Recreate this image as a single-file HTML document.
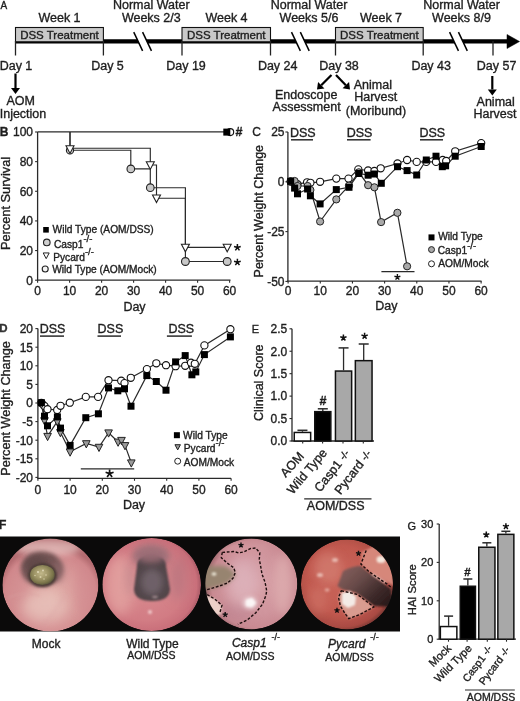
<!DOCTYPE html>
<html><head><meta charset="utf-8"><style>
html,body{margin:0;padding:0;background:#fff;}
body{width:520px;height:701px;overflow:hidden;}
svg{display:block;filter:blur(0.3px);font-family:"Liberation Sans", sans-serif;}
</style></head><body>
<svg width="520" height="701" viewBox="0 0 520 701">
<rect width="520" height="701" fill="#fff"/>
<defs>
<filter id="b1" x="-50%" y="-50%" width="200%" height="200%"><feGaussianBlur stdDeviation="1"/></filter>
<filter id="b2" x="-50%" y="-50%" width="200%" height="200%"><feGaussianBlur stdDeviation="2"/></filter>
<filter id="b3" x="-50%" y="-50%" width="200%" height="200%"><feGaussianBlur stdDeviation="3"/></filter>
<filter id="b4" x="-50%" y="-50%" width="200%" height="200%"><feGaussianBlur stdDeviation="4"/></filter>
<filter id="b6" x="-50%" y="-50%" width="200%" height="200%"><feGaussianBlur stdDeviation="6"/></filter>
<filter id="bh" x="-10%" y="-10%" width="120%" height="120%"><feGaussianBlur stdDeviation="0.6"/></filter>
<clipPath id="c1"><ellipse cx="50.4" cy="585" rx="48" ry="46.5"/></clipPath>
<clipPath id="c2"><ellipse cx="151.7" cy="584.5" rx="49.3" ry="46.5"/></clipPath>
<clipPath id="c3"><ellipse cx="251.3" cy="584" rx="46" ry="45.5"/></clipPath>
<clipPath id="c4"><ellipse cx="347" cy="584.5" rx="46" ry="45"/></clipPath>
<radialGradient id="g1" cx="0.5" cy="0.62" r="0.55">
  <stop offset="0" stop-color="#e2b2ab"/><stop offset="0.55" stop-color="#d99a9a"/><stop offset="0.88" stop-color="#d0878b"/><stop offset="1" stop-color="#b46c71"/>
</radialGradient>
<radialGradient id="g2" cx="0.45" cy="0.5" r="0.55">
  <stop offset="0" stop-color="#d98c90"/><stop offset="0.7" stop-color="#d27c84"/><stop offset="0.92" stop-color="#c96f7a"/><stop offset="1" stop-color="#a85a66"/>
</radialGradient>
<radialGradient id="g3" cx="0.55" cy="0.5" r="0.55">
  <stop offset="0" stop-color="#d8a2a8"/><stop offset="0.6" stop-color="#d0959d"/><stop offset="0.88" stop-color="#c98a92"/><stop offset="0.97" stop-color="#a86e74"/><stop offset="1" stop-color="#6e4a50"/>
</radialGradient>
<radialGradient id="g4" cx="0.45" cy="0.45" r="0.58">
  <stop offset="0" stop-color="#ca665b"/><stop offset="0.65" stop-color="#c1594f"/><stop offset="0.9" stop-color="#aa4b43"/><stop offset="1" stop-color="#743430"/>
</radialGradient>
<linearGradient id="lum4" x1="0" y1="0" x2="1" y2="0.8">
  <stop offset="0" stop-color="#8a6260"/><stop offset="0.4" stop-color="#6a4c4a"/><stop offset="0.75" stop-color="#3e2a2a"/><stop offset="1" stop-color="#2a1a1a"/>
</linearGradient>
<radialGradient id="blob1" cx="0.45" cy="0.42" r="0.6">
  <stop offset="0" stop-color="#c2b88a"/><stop offset="0.45" stop-color="#a09668"/><stop offset="0.8" stop-color="#7a744a"/><stop offset="1" stop-color="#55503a"/>
</radialGradient>
</defs>
<rect x="0" y="536.5" width="400" height="95" fill="#0b0a0a"/>
<g clip-path="url(#c1)" filter="url(#bh)">
  <ellipse cx="50.4" cy="585" rx="48" ry="46.5" fill="url(#g1)"/>
  <ellipse cx="48" cy="548" rx="32" ry="8" fill="#e6c4c1" filter="url(#b3)" opacity="0.7"/>
  <ellipse cx="20" cy="585" rx="10" ry="22" fill="#d08a8e" filter="url(#b4)" opacity="0.5"/>
  <ellipse cx="85" cy="590" rx="10" ry="25" fill="#d28a8f" filter="url(#b4)" opacity="0.5"/>
  <ellipse cx="45" cy="606" rx="22" ry="15" fill="#e8c2bb" filter="url(#b6)" opacity="0.75"/>
  <path d="M64,596 Q56,612 42,626" stroke="#d4959a" stroke-width="1.6" fill="none" filter="url(#b2)" opacity="0.5"/>
  <path d="M8,598 Q25,590 40,596" stroke="#d9a0a0" stroke-width="1.2" fill="none" filter="url(#b1)" opacity="0.5"/>
  <ellipse cx="42" cy="569" rx="21" ry="17.5" fill="#735455" filter="url(#b2)"/><ellipse cx="36" cy="564" rx="12" ry="9" fill="#5e4646" filter="url(#b3)" opacity="0.8"/>
  <ellipse cx="58" cy="572" rx="7" ry="11" fill="#9a7072" filter="url(#b3)" opacity="0.5"/>
  <ellipse cx="42.4" cy="575" rx="14.5" ry="12" fill="#4e3c38" filter="url(#b1)"/>
  <ellipse cx="42.4" cy="575" rx="12.3" ry="10.1" fill="url(#blob1)"/>
  
  <circle cx="38" cy="572" r="1" fill="#e0d8b8"/><circle cx="43" cy="570.5" r="0.9" fill="#e0d8b8"/><circle cx="40.5" cy="577" r="1" fill="#d8d0a8"/><circle cx="46" cy="575" r="0.8" fill="#d8d0a8"/><circle cx="35" cy="575.5" r="0.8" fill="#cfc8a0"/><circle cx="44" cy="579" r="0.8" fill="#cfc8a0"/>
</g>
<g clip-path="url(#c2)" filter="url(#bh)">
  <ellipse cx="151.7" cy="584.5" rx="49.3" ry="46.5" fill="url(#g2)"/>
  <ellipse cx="120" cy="585" rx="15" ry="30" fill="#e4a4a2" filter="url(#b6)" opacity="0.8"/><ellipse cx="178" cy="578" rx="8" ry="22" fill="#a8707a" filter="url(#b6)" opacity="0.5"/><ellipse cx="130" cy="578" rx="5" ry="18" fill="#b98288" filter="url(#b4)" opacity="0.5"/>
  <ellipse cx="151" cy="556" rx="19" ry="12" fill="#a0727a" filter="url(#b3)" opacity="0.9"/>
  <path d="M137,566 Q137,556 151,555 Q166,556 166,566 L170,589 Q170,601 152,601 Q134,601 134,589 Z" fill="#514449" filter="url(#b1)"/>
  <ellipse cx="152" cy="582" rx="11" ry="13" fill="#6e6167" filter="url(#b3)"/>
  <ellipse cx="151" cy="556" rx="14" ry="7" fill="#9a6c74" filter="url(#b3)" opacity="0.9"/>
  <ellipse cx="155" cy="597" rx="3" ry="1.3" fill="#9d878b" filter="url(#b1)"/>
  <ellipse cx="150" cy="612" rx="2" ry="2" fill="#efc8c8" filter="url(#b1)"/>
</g>
<g clip-path="url(#c3)" filter="url(#bh)">
  <ellipse cx="251.3" cy="584" rx="46" ry="45.5" fill="url(#g3)"/>
  <ellipse cx="283" cy="585" rx="9" ry="30" fill="#e2b4b4" filter="url(#b4)" opacity="0.6"/>
  <ellipse cx="245" cy="575" rx="16" ry="20" fill="#d8a8b2" filter="url(#b6)" opacity="0.6"/>
  <ellipse cx="235" cy="612" rx="20" ry="10" fill="#bc8290" filter="url(#b4)" opacity="0.5"/>
  <ellipse cx="240" cy="548" rx="30" ry="6" fill="#d49aa0" filter="url(#b3)" opacity="0.6"/>
  <ellipse cx="242" cy="585" rx="14" ry="22" fill="#e0b8c0" filter="url(#b6)" opacity="0.6"/><path d="M203,566 L225,566 Q236,571 235,576 L228,583 L218,587 L203,590 Z" fill="#978470" filter="url(#b2)"/>
  <ellipse cx="214" cy="574" rx="2.5" ry="1.8" fill="#e8e2d2" filter="url(#b1)"/>
  <ellipse cx="250" cy="603" rx="7" ry="6" fill="#eed8dc" filter="url(#b2)"/><path d="M246,600 L252,598 L256,603 L252,607 L246,606 Z" fill="#fbf6f6" filter="url(#b1)"/>
  <path d="M204,594 L215,599 L222,606 L221,614 L212,617 L204,611 Z" fill="#ecd0c8" filter="url(#b1)"/>
</g>
<g clip-path="url(#c4)" filter="url(#bh)">
  <ellipse cx="347" cy="584.5" rx="46" ry="45" fill="url(#g4)"/>
  <ellipse cx="328" cy="568" rx="14" ry="16" fill="#d98a7e" filter="url(#b4)" opacity="0.5"/><ellipse cx="320" cy="575" rx="3" ry="2" fill="#e8b8ae" filter="url(#b1)"/><ellipse cx="335" cy="560" rx="3" ry="2" fill="#e8b8ae" filter="url(#b1)"/><ellipse cx="327" cy="590" rx="2.5" ry="1.8" fill="#e4aaa0" filter="url(#b1)"/>
  <ellipse cx="318" cy="600" rx="10" ry="14" fill="#d2786c" filter="url(#b4)" opacity="0.5"/>
  <path d="M343,571 Q352,566 361,566 L391,589 L393,607 L374,606 L355,592.5 L342.5,589.4 L337.5,586 Z" fill="url(#lum4)" filter="url(#b1)"/>
  <path d="M362,552 L374,546 L392,556 L394,586 L368,571 L361,564 Z" fill="#d6877a" filter="url(#b1)"/>
  <path d="M341,591 L357,594 L374,607 L359,615 L349,619 L340,606 L338,597 Z" fill="#d99c90" filter="url(#b1)"/>
  <path d="M342,593 L350,591 L356,597 L355,605 L348,608 L342,604 Z" fill="#f4ebe6" filter="url(#b1)"/>
  <ellipse cx="381" cy="559.5" rx="4.5" ry="3.5" fill="#f4e6dc" filter="url(#b1)"/><path d="M372,574 L386,583" stroke="#efd0c8" stroke-width="2" filter="url(#b1)"/>
</g>
<g fill="none" stroke="#1e0e0e" stroke-width="1.4" stroke-dasharray="2.8,1.7">
  <path d="M222.3,552.4 L233.8,551.5 L238.7,552.9 L243.5,552 L250.2,548.6 L255.6,548 L259.8,552.8 L259.3,559.2 L260.9,567.6 L262,574 L265.1,582.4 L266.7,590.9 L265.9,595.5 L262.5,604.2 L255.8,612.8 L250,617.6 L247.4,620 L237.9,624.3"/>
  <path d="M222.3,552.4 L221.3,557.7 L227.1,563 L233.8,567.8 L235.3,572.6 L232.9,578.4 L227.1,583.2 L219.4,586 L206,590"/>
  <path d="M207.2,594.6 L214.6,598.9 L222,605.2 L219.9,612.6"/>
  <path d="M366.2,550.5 L360.9,564 L369,571.7 L387.3,584.2 L392,588"/>
  <path d="M341.3,590.7 L357.5,594.5 L373.8,607 L359.4,614.7 L348.8,618.6 L345.2,613.8 L340.4,606 L338.5,597.4 Z"/>
</g>

<text x="0.5" y="8.6" font-size="10" text-anchor="start" fill="#1e1e1e" stroke="#1e1e1e" stroke-width="0.35"  style="">A</text>
<text x="59.5" y="21.5" font-size="12.5" text-anchor="middle" fill="#1e1e1e" stroke="#1e1e1e" stroke-width="0.35"  style="">Week 1</text>
<text x="226.5" y="21.5" font-size="12.5" text-anchor="middle" fill="#1e1e1e" stroke="#1e1e1e" stroke-width="0.35"  style="">Week 4</text>
<text x="381" y="21.5" font-size="12.5" text-anchor="middle" fill="#1e1e1e" stroke="#1e1e1e" stroke-width="0.35"  style="">Week 7</text>
<text x="151.3" y="9" font-size="12.5" text-anchor="middle" fill="#1e1e1e" stroke="#1e1e1e" stroke-width="0.35"  style="">Normal Water</text>
<text x="151.3" y="21.5" font-size="12.5" text-anchor="middle" fill="#1e1e1e" stroke="#1e1e1e" stroke-width="0.35"  style="">Weeks 2/3</text>
<text x="309" y="9" font-size="12.5" text-anchor="middle" fill="#1e1e1e" stroke="#1e1e1e" stroke-width="0.35"  style="">Normal Water</text>
<text x="309" y="21.5" font-size="12.5" text-anchor="middle" fill="#1e1e1e" stroke="#1e1e1e" stroke-width="0.35"  style="">Weeks 5/6</text>
<text x="461.5" y="9" font-size="12.5" text-anchor="middle" fill="#1e1e1e" stroke="#1e1e1e" stroke-width="0.35"  style="">Normal Water</text>
<text x="461.5" y="21.5" font-size="12.5" text-anchor="middle" fill="#1e1e1e" stroke="#1e1e1e" stroke-width="0.35"  style="">Weeks 8/9</text>
<path d="M15,41.4 L510,41.4" fill="none" stroke="#000" stroke-width="4.4" />
<path d="M507,34.5 L519.5,41.5 L507,48.5 Z" fill="#000" stroke="#000" stroke-width="0.5" />
<rect x="15.5" y="27.5" width="87.9" height="14.3" fill="#c9c9c9" stroke="#111" stroke-width="1.1"/>
<text x="59.45" y="38.7" font-size="11.5" text-anchor="middle" fill="#1e1e1e" stroke="#1e1e1e" stroke-width="0.35"  style="">DSS Treatment</text>
<rect x="182" y="27.5" width="88.5" height="14.3" fill="#c9c9c9" stroke="#111" stroke-width="1.1"/>
<text x="226.25" y="38.7" font-size="11.5" text-anchor="middle" fill="#1e1e1e" stroke="#1e1e1e" stroke-width="0.35"  style="">DSS Treatment</text>
<rect x="335.5" y="27.5" width="87.69999999999999" height="14.3" fill="#c9c9c9" stroke="#111" stroke-width="1.1"/>
<text x="379.35" y="38.7" font-size="11.5" text-anchor="middle" fill="#1e1e1e" stroke="#1e1e1e" stroke-width="0.35"  style="">DSS Treatment</text>
<path d="M133.75,32.1 L142.6,50.9 L151.45,50.9 L142.6,32.1 Z" fill="#fff" stroke="none"/>
<line x1="133.75" y1="32.1" x2="142.6" y2="50.9" stroke="#000" stroke-width="1.5" />
<line x1="142.6" y1="32.1" x2="151.45" y2="50.9" stroke="#000" stroke-width="1.5" />
<path d="M291.5,32.1 L300.35,50.9 L309.2,50.9 L300.35,32.1 Z" fill="#fff" stroke="none"/>
<line x1="291.5" y1="32.1" x2="300.35" y2="50.9" stroke="#000" stroke-width="1.5" />
<line x1="300.35" y1="32.1" x2="309.2" y2="50.9" stroke="#000" stroke-width="1.5" />
<path d="M449.6,32.1 L458.45000000000005,50.9 L467.3,50.9 L458.45000000000005,32.1 Z" fill="#fff" stroke="none"/>
<line x1="449.6" y1="32.1" x2="458.45000000000005" y2="50.9" stroke="#000" stroke-width="1.5" />
<line x1="458.45000000000005" y1="32.1" x2="467.3" y2="50.9" stroke="#000" stroke-width="1.5" />
<line x1="15.5" y1="41" x2="15.5" y2="55.5" stroke="#222" stroke-width="1.3" />
<line x1="103.4" y1="41" x2="103.4" y2="55.5" stroke="#222" stroke-width="1.3" />
<line x1="182" y1="41" x2="182" y2="55.5" stroke="#222" stroke-width="1.3" />
<line x1="270.5" y1="41" x2="270.5" y2="55.5" stroke="#222" stroke-width="1.3" />
<line x1="335.5" y1="41" x2="335.5" y2="55.5" stroke="#222" stroke-width="1.3" />
<line x1="423.2" y1="41" x2="423.2" y2="55.5" stroke="#222" stroke-width="1.3" />
<line x1="493" y1="41" x2="493" y2="55.5" stroke="#222" stroke-width="1.3" />
<text x="16" y="69.5" font-size="12.5" text-anchor="middle" fill="#1e1e1e" stroke="#1e1e1e" stroke-width="0.35"  style="">Day 1</text>
<text x="107.5" y="69.5" font-size="12.5" text-anchor="middle" fill="#1e1e1e" stroke="#1e1e1e" stroke-width="0.35"  style="">Day 5</text>
<text x="186" y="69.5" font-size="12.5" text-anchor="middle" fill="#1e1e1e" stroke="#1e1e1e" stroke-width="0.35"  style="">Day 19</text>
<text x="277.7" y="69.5" font-size="12.5" text-anchor="middle" fill="#1e1e1e" stroke="#1e1e1e" stroke-width="0.35"  style="">Day 24</text>
<text x="339" y="69.5" font-size="12.5" text-anchor="middle" fill="#1e1e1e" stroke="#1e1e1e" stroke-width="0.35"  style="">Day 38</text>
<text x="431.2" y="69.5" font-size="12.5" text-anchor="middle" fill="#1e1e1e" stroke="#1e1e1e" stroke-width="0.35"  style="">Day 43</text>
<text x="496.6" y="69.5" font-size="12.5" text-anchor="middle" fill="#1e1e1e" stroke="#1e1e1e" stroke-width="0.35"  style="">Day 57</text>
<line x1="15.5" y1="73.5" x2="15.5" y2="88.0" stroke="#000" stroke-width="2.2" />
<path d="M15.5,94 L11.0,88.0 L20.0,88.0 Z" fill="#000"/>
<line x1="331.5" y1="75" x2="321.24264068711926" y2="85.25735931288071" stroke="#000" stroke-width="2.2" />
<path d="M317,89.5 L318.0606601717798,82.07537879754125 L324.42462120245875,88.43933982822017 Z" fill="#000"/>
<line x1="336" y1="75" x2="345.8324329178026" y2="85.18359123629554" stroke="#000" stroke-width="2.2" />
<path d="M350,89.5 L342.59512634502425,88.3092665479436 L349.0697394905809,82.05791592464749 Z" fill="#000"/>
<line x1="492.3" y1="76" x2="492.3" y2="89.5" stroke="#000" stroke-width="2.2" />
<path d="M492.3,95.5 L487.8,89.5 L496.8,89.5 Z" fill="#000"/>
<text x="20.7" y="105" font-size="12.5" text-anchor="middle" fill="#1e1e1e" stroke="#1e1e1e" stroke-width="0.35"  style="">AOM</text>
<text x="23" y="117.5" font-size="12.5" text-anchor="middle" fill="#1e1e1e" stroke="#1e1e1e" stroke-width="0.35"  style="">Injection</text>
<text x="306.2" y="98.7" font-size="12.5" text-anchor="middle" fill="#1e1e1e" stroke="#1e1e1e" stroke-width="0.35"  style="">Endoscope</text>
<text x="306.6" y="111.2" font-size="12.5" text-anchor="middle" fill="#1e1e1e" stroke="#1e1e1e" stroke-width="0.35"  style="">Assessment</text>
<text x="372.9" y="88.8" font-size="12.5" text-anchor="middle" fill="#1e1e1e" stroke="#1e1e1e" stroke-width="0.35"  style="">Animal</text>
<text x="375.7" y="101" font-size="12.5" text-anchor="middle" fill="#1e1e1e" stroke="#1e1e1e" stroke-width="0.35"  style="">Harvest</text>
<text x="376" y="115" font-size="12.5" text-anchor="middle" fill="#1e1e1e" stroke="#1e1e1e" stroke-width="0.35"  style="">(Moribund)</text>
<text x="495.7" y="105.5" font-size="12.5" text-anchor="middle" fill="#1e1e1e" stroke="#1e1e1e" stroke-width="0.35"  style="">Animal</text>
<text x="495" y="117.5" font-size="12.5" text-anchor="middle" fill="#1e1e1e" stroke="#1e1e1e" stroke-width="0.35"  style="">Harvest</text>
<text x="-0.3" y="135.9" font-size="12" text-anchor="start" fill="#1e1e1e" stroke="#1e1e1e" stroke-width="0.35" font-weight="bold" style="">B</text>
<line x1="37.6" y1="132" x2="37.6" y2="280.2" stroke="#2a2a2a" stroke-width="1.3" />
<line x1="37.0" y1="280.2" x2="230.5" y2="280.2" stroke="#2a2a2a" stroke-width="1.3" />
<line x1="35.1" y1="280.2" x2="37.6" y2="280.2" stroke="#2a2a2a" stroke-width="1.1" />
<text x="33" y="284.5" font-size="12" text-anchor="end" fill="#1e1e1e" stroke="#1e1e1e" stroke-width="0.35"  style="">0</text>
<line x1="35.1" y1="250.56" x2="37.6" y2="250.56" stroke="#2a2a2a" stroke-width="1.1" />
<text x="33" y="254.86" font-size="12" text-anchor="end" fill="#1e1e1e" stroke="#1e1e1e" stroke-width="0.35"  style="">20</text>
<line x1="35.1" y1="220.92" x2="37.6" y2="220.92" stroke="#2a2a2a" stroke-width="1.1" />
<text x="33" y="225.22" font-size="12" text-anchor="end" fill="#1e1e1e" stroke="#1e1e1e" stroke-width="0.35"  style="">40</text>
<line x1="35.1" y1="191.27999999999997" x2="37.6" y2="191.27999999999997" stroke="#2a2a2a" stroke-width="1.1" />
<text x="33" y="195.57999999999998" font-size="12" text-anchor="end" fill="#1e1e1e" stroke="#1e1e1e" stroke-width="0.35"  style="">60</text>
<line x1="35.1" y1="161.64" x2="37.6" y2="161.64" stroke="#2a2a2a" stroke-width="1.1" />
<text x="33" y="165.94" font-size="12" text-anchor="end" fill="#1e1e1e" stroke="#1e1e1e" stroke-width="0.35"  style="">80</text>
<line x1="35.1" y1="132.0" x2="37.6" y2="132.0" stroke="#2a2a2a" stroke-width="1.1" />
<text x="33" y="136.3" font-size="12" text-anchor="end" fill="#1e1e1e" stroke="#1e1e1e" stroke-width="0.35"  style="">100</text>
<line x1="37.6" y1="280.2" x2="37.6" y2="282.7" stroke="#2a2a2a" stroke-width="1.1" />
<text x="37.6" y="295.3" font-size="12" text-anchor="middle" fill="#1e1e1e" stroke="#1e1e1e" stroke-width="0.35"  style="">0</text>
<line x1="69.6" y1="280.2" x2="69.6" y2="282.7" stroke="#2a2a2a" stroke-width="1.1" />
<text x="69.6" y="295.3" font-size="12" text-anchor="middle" fill="#1e1e1e" stroke="#1e1e1e" stroke-width="0.35"  style="">10</text>
<line x1="101.6" y1="280.2" x2="101.6" y2="282.7" stroke="#2a2a2a" stroke-width="1.1" />
<text x="101.6" y="295.3" font-size="12" text-anchor="middle" fill="#1e1e1e" stroke="#1e1e1e" stroke-width="0.35"  style="">20</text>
<line x1="133.6" y1="280.2" x2="133.6" y2="282.7" stroke="#2a2a2a" stroke-width="1.1" />
<text x="133.6" y="295.3" font-size="12" text-anchor="middle" fill="#1e1e1e" stroke="#1e1e1e" stroke-width="0.35"  style="">30</text>
<line x1="165.6" y1="280.2" x2="165.6" y2="282.7" stroke="#2a2a2a" stroke-width="1.1" />
<text x="165.6" y="295.3" font-size="12" text-anchor="middle" fill="#1e1e1e" stroke="#1e1e1e" stroke-width="0.35"  style="">40</text>
<line x1="197.6" y1="280.2" x2="197.6" y2="282.7" stroke="#2a2a2a" stroke-width="1.1" />
<text x="197.6" y="295.3" font-size="12" text-anchor="middle" fill="#1e1e1e" stroke="#1e1e1e" stroke-width="0.35"  style="">50</text>
<line x1="229.6" y1="280.2" x2="229.6" y2="282.7" stroke="#2a2a2a" stroke-width="1.1" />
<text x="229.6" y="295.3" font-size="12" text-anchor="middle" fill="#1e1e1e" stroke="#1e1e1e" stroke-width="0.35"  style="">60</text>
<text x="134.5" y="310.9" font-size="12.5" text-anchor="middle" fill="#1e1e1e" stroke="#1e1e1e" stroke-width="0.35"  style="">Day</text>
<text transform="translate(9.7,203.5) rotate(-90)" font-size="12.8" text-anchor="middle" fill="#1e1e1e" stroke="#1e1e1e" stroke-width="0.35">Percent Survival</text>
<path d="M37.6,131.9 L228,131.9" fill="none" stroke="#2a2a2a" stroke-width="1.15" />
<path d="M70,131.9 L70,148.2 L150.3,148.2 L150.3,165 L156.5,165 L156.5,198.2 L185.4,198.2 L185.4,247.4 L227.2,247.4" fill="none" stroke="#2a2a2a" stroke-width="1.15" />
<path d="M70,131.9 L70,150.2 L130.8,150.2 L130.8,168.9 L150.3,168.9 L150.3,187.7 L185.4,187.7 L185.4,261.5 L227.2,261.5" fill="none" stroke="#2a2a2a" stroke-width="1.15" />
<circle cx="70" cy="150.4" r="3.6" fill="#c8c8c8" stroke="#222" stroke-width="1.1"/>
<path d="M66.0,145.8 L74.0,145.8 L70,153.40000000000003 Z" fill="#fff" stroke="#222" stroke-width="1.1" stroke-linejoin="miter"/>
<circle cx="130.8" cy="168.9" r="3.8" fill="#c8c8c8" stroke="#222" stroke-width="1.1"/>
<path d="M146.3,161.8 L154.3,161.8 L150.3,169.40000000000003 Z" fill="#fff" stroke="#222" stroke-width="1.1" stroke-linejoin="miter"/>
<circle cx="150.3" cy="187.7" r="3.8" fill="#c8c8c8" stroke="#222" stroke-width="1.1"/>
<path d="M152.5,195.0 L160.5,195.0 L156.5,202.60000000000002 Z" fill="#fff" stroke="#222" stroke-width="1.1" stroke-linejoin="miter"/>
<path d="M181.4,244.2 L189.4,244.2 L185.4,251.8 Z" fill="#fff" stroke="#222" stroke-width="1.1" stroke-linejoin="miter"/>
<circle cx="185.4" cy="261.5" r="3.9" fill="#c8c8c8" stroke="#222" stroke-width="1.1"/>
<path d="M223.2,244.2 L231.2,244.2 L227.2,251.8 Z" fill="#fff" stroke="#222" stroke-width="1.1" stroke-linejoin="miter"/>
<circle cx="227.2" cy="261.5" r="3.9" fill="#c8c8c8" stroke="#222" stroke-width="1.1"/>
<circle cx="230.2" cy="132.1" r="3.5" fill="#fff" stroke="#111" stroke-width="1.1"/>
<rect x="223.3" y="128.6" width="7" height="7" fill="#000"/>
<path d="M237.40,262.30 L237.40,258.80 M237.40,262.30 L240.73,261.22 M237.40,262.30 L239.46,265.13 M237.40,262.30 L235.34,265.13 M237.40,262.30 L234.07,261.22 " stroke="#111" stroke-width="1.5" stroke-linecap="butt" fill="none"/>
<path d="M237.40,247.50 L237.40,244.00 M237.40,247.50 L240.73,246.42 M237.40,247.50 L239.46,250.33 M237.40,247.50 L235.34,250.33 M237.40,247.50 L234.07,246.42 " stroke="#111" stroke-width="1.5" stroke-linecap="butt" fill="none"/>
<text x="235.6" y="135.6" font-size="12.5" text-anchor="start" fill="#1e1e1e" stroke="#1e1e1e" stroke-width="0.35" font-weight="bold" style="">#</text>
<rect x="43.2" y="227.0" width="5.6" height="5.6" fill="#000"/>
<text x="52.6" y="233.3" font-size="10.2" text-anchor="start" fill="#1e1e1e" stroke="#1e1e1e" stroke-width="0.35"  style="">Wild Type (AOM/DSS)</text>
<circle cx="46.8" cy="242.4" r="3.3" fill="#d0d0d0" stroke="#222" stroke-width="1.1"/>
<text x="54" y="247.6" font-size="10.2" text-anchor="start" fill="#1e1e1e" stroke="#1e1e1e" stroke-width="0.35"  style="">Casp1<tspan font-size="9.5" dy="-5.5">-/-</tspan></text>
<path d="M43.2,252.95000000000002 L49.2,252.95000000000002 L46.2,258.65000000000003 Z" fill="#fff" stroke="#222" stroke-width="1" stroke-linejoin="miter"/>
<text x="53.2" y="260.8" font-size="10.2" text-anchor="start" fill="#1e1e1e" stroke="#1e1e1e" stroke-width="0.35"  style="">Pycard<tspan font-size="9.5" dy="-5.5">-/-</tspan></text>
<circle cx="45.2" cy="269" r="3" fill="#f4f4f4" stroke="#222" stroke-width="1.1"/>
<text x="52.2" y="272.8" font-size="10.2" text-anchor="start" fill="#1e1e1e" stroke="#1e1e1e" stroke-width="0.35"  style="">Wild Type (AOM/Mock)</text>
<text x="252.3" y="136.2" font-size="12" text-anchor="start" fill="#1e1e1e" stroke="#1e1e1e" stroke-width="0.35"  style="">C</text>
<line x1="287.9" y1="132" x2="287.9" y2="281.1" stroke="#2a2a2a" stroke-width="1.3" />
<line x1="287.29999999999995" y1="281.1" x2="481.5" y2="281.1" stroke="#2a2a2a" stroke-width="1.3" />
<line x1="285.4" y1="132.0" x2="287.9" y2="132.0" stroke="#2a2a2a" stroke-width="1.1" />
<text x="284.5" y="136.3" font-size="12" text-anchor="end" fill="#1e1e1e" stroke="#1e1e1e" stroke-width="0.35"  style="">25</text>
<line x1="285.4" y1="181.8" x2="287.9" y2="181.8" stroke="#2a2a2a" stroke-width="1.1" />
<text x="284.5" y="186.10000000000002" font-size="12" text-anchor="end" fill="#1e1e1e" stroke="#1e1e1e" stroke-width="0.35"  style="">0</text>
<line x1="285.4" y1="231.60000000000002" x2="287.9" y2="231.60000000000002" stroke="#2a2a2a" stroke-width="1.1" />
<text x="284.5" y="235.90000000000003" font-size="12" text-anchor="end" fill="#1e1e1e" stroke="#1e1e1e" stroke-width="0.35"  style="">-25</text>
<line x1="285.4" y1="281.40000000000003" x2="287.9" y2="281.40000000000003" stroke="#2a2a2a" stroke-width="1.1" />
<text x="284.5" y="285.70000000000005" font-size="12" text-anchor="end" fill="#1e1e1e" stroke="#1e1e1e" stroke-width="0.35"  style="">-50</text>
<line x1="288.09999999999997" y1="281.1" x2="288.09999999999997" y2="283.6" stroke="#2a2a2a" stroke-width="1.1" />
<text x="288.09999999999997" y="295" font-size="12" text-anchor="middle" fill="#1e1e1e" stroke="#1e1e1e" stroke-width="0.35"  style="">0</text>
<line x1="320.27" y1="281.1" x2="320.27" y2="283.6" stroke="#2a2a2a" stroke-width="1.1" />
<text x="320.27" y="295" font-size="12" text-anchor="middle" fill="#1e1e1e" stroke="#1e1e1e" stroke-width="0.35"  style="">10</text>
<line x1="352.43999999999994" y1="281.1" x2="352.43999999999994" y2="283.6" stroke="#2a2a2a" stroke-width="1.1" />
<text x="352.43999999999994" y="295" font-size="12" text-anchor="middle" fill="#1e1e1e" stroke="#1e1e1e" stroke-width="0.35"  style="">20</text>
<line x1="384.60999999999996" y1="281.1" x2="384.60999999999996" y2="283.6" stroke="#2a2a2a" stroke-width="1.1" />
<text x="384.60999999999996" y="295" font-size="12" text-anchor="middle" fill="#1e1e1e" stroke="#1e1e1e" stroke-width="0.35"  style="">30</text>
<line x1="416.78" y1="281.1" x2="416.78" y2="283.6" stroke="#2a2a2a" stroke-width="1.1" />
<text x="416.78" y="295" font-size="12" text-anchor="middle" fill="#1e1e1e" stroke="#1e1e1e" stroke-width="0.35"  style="">40</text>
<line x1="448.94999999999993" y1="281.1" x2="448.94999999999993" y2="283.6" stroke="#2a2a2a" stroke-width="1.1" />
<text x="448.94999999999993" y="295" font-size="12" text-anchor="middle" fill="#1e1e1e" stroke="#1e1e1e" stroke-width="0.35"  style="">50</text>
<line x1="481.12" y1="281.1" x2="481.12" y2="283.6" stroke="#2a2a2a" stroke-width="1.1" />
<text x="481.12" y="295" font-size="12" text-anchor="middle" fill="#1e1e1e" stroke="#1e1e1e" stroke-width="0.35"  style="">60</text>
<text x="386.3" y="310.3" font-size="12.5" text-anchor="middle" fill="#1e1e1e" stroke="#1e1e1e" stroke-width="0.35"  style="">Day</text>
<text transform="translate(262.8,211.2) rotate(-90)" font-size="12.5" text-anchor="middle" fill="#1e1e1e" stroke="#1e1e1e" stroke-width="0.35">Percent Weight Change</text>
<line x1="291" y1="139.8" x2="313" y2="139.8" stroke="#2a2a2a" stroke-width="1.5" />
<text x="302.8" y="137" font-size="12.5" text-anchor="middle" fill="#1e1e1e" stroke="#1e1e1e" stroke-width="0.35"  style="">DSS</text>
<line x1="347" y1="139.8" x2="370.6" y2="139.8" stroke="#2a2a2a" stroke-width="1.5" />
<text x="359.6" y="137" font-size="12.5" text-anchor="middle" fill="#1e1e1e" stroke="#1e1e1e" stroke-width="0.35"  style="">DSS</text>
<line x1="420" y1="139.8" x2="443" y2="139.8" stroke="#2a2a2a" stroke-width="1.5" />
<text x="432.3" y="137" font-size="12.5" text-anchor="middle" fill="#1e1e1e" stroke="#1e1e1e" stroke-width="0.35"  style="">DSS</text>
<path d="M290.7,181.5 L294.6,181 L297.5,186 L307.6,186 L310.4,190 L320.1,221.5 L336.3,199.4 L349,185.6 L358.8,172.3 L368.1,185.2 L374.4,187.3 L381.1,222.1 L397.4,212.8 L407.1,266.3" fill="none" stroke="#2a2a2a" stroke-width="1.2" />
<path d="M290.7,181.3 L294.6,188.1 L297.5,193.8 L307.6,189 L310.4,195.8 L320.1,203.9 L336.3,189.6 L349,187.3 L358.8,173.5 L368.1,175.2 L374.4,174 L381.3,183.3 L397.5,166.7 L407.1,170.6 L416.7,175 L426.3,160 L436,156.2 L442.3,166.7 L445.6,165.8 L455.2,156.2 L481.2,146.5" fill="none" stroke="#2a2a2a" stroke-width="1.2" />
<path d="M290.7,181.5 L294.6,183 L297.5,184.2 L307.1,182.3 L310.4,182.8 L320.1,181.8 L336.3,178.6 L348.5,178.6 L358.3,169.4 L368.1,170.5 L374.4,171 L380.7,168.3 L397.5,163.5 L407.1,160 L416.7,161.9 L426.3,161.9 L436,161.9 L442.7,160 L446.2,161 L455.2,151.3 L481.2,143.1" fill="none" stroke="#2a2a2a" stroke-width="1.2" />
<circle cx="290.7" cy="181.5" r="3.6" fill="#fff" stroke="#111" stroke-width="1.1"/>
<circle cx="294.6" cy="183" r="3.6" fill="#fff" stroke="#111" stroke-width="1.1"/>
<circle cx="297.5" cy="184.2" r="3.6" fill="#fff" stroke="#111" stroke-width="1.1"/>
<circle cx="307.1" cy="182.3" r="3.6" fill="#fff" stroke="#111" stroke-width="1.1"/>
<circle cx="310.4" cy="182.8" r="3.6" fill="#fff" stroke="#111" stroke-width="1.1"/>
<circle cx="320.1" cy="181.8" r="3.6" fill="#fff" stroke="#111" stroke-width="1.1"/>
<circle cx="336.3" cy="178.6" r="3.6" fill="#fff" stroke="#111" stroke-width="1.1"/>
<circle cx="348.5" cy="178.6" r="3.6" fill="#fff" stroke="#111" stroke-width="1.1"/>
<circle cx="358.3" cy="169.4" r="3.6" fill="#fff" stroke="#111" stroke-width="1.1"/>
<circle cx="368.1" cy="170.5" r="3.6" fill="#fff" stroke="#111" stroke-width="1.1"/>
<circle cx="374.4" cy="171" r="3.6" fill="#fff" stroke="#111" stroke-width="1.1"/>
<circle cx="380.7" cy="168.3" r="3.6" fill="#fff" stroke="#111" stroke-width="1.1"/>
<circle cx="397.5" cy="163.5" r="3.6" fill="#fff" stroke="#111" stroke-width="1.1"/>
<circle cx="407.1" cy="160" r="3.6" fill="#fff" stroke="#111" stroke-width="1.1"/>
<circle cx="416.7" cy="161.9" r="3.6" fill="#fff" stroke="#111" stroke-width="1.1"/>
<circle cx="426.3" cy="161.9" r="3.6" fill="#fff" stroke="#111" stroke-width="1.1"/>
<circle cx="436" cy="161.9" r="3.6" fill="#fff" stroke="#111" stroke-width="1.1"/>
<circle cx="442.7" cy="160" r="3.6" fill="#fff" stroke="#111" stroke-width="1.1"/>
<circle cx="446.2" cy="161" r="3.6" fill="#fff" stroke="#111" stroke-width="1.1"/>
<circle cx="455.2" cy="151.3" r="3.6" fill="#fff" stroke="#111" stroke-width="1.1"/>
<circle cx="481.2" cy="143.1" r="3.6" fill="#fff" stroke="#111" stroke-width="1.1"/>
<circle cx="290.7" cy="181.5" r="3.6" fill="#a9a9a9" stroke="#222" stroke-width="1"/>
<circle cx="294.6" cy="181" r="3.6" fill="#a9a9a9" stroke="#222" stroke-width="1"/>
<circle cx="297.5" cy="186" r="3.6" fill="#a9a9a9" stroke="#222" stroke-width="1"/>
<circle cx="307.6" cy="186" r="3.6" fill="#a9a9a9" stroke="#222" stroke-width="1"/>
<circle cx="310.4" cy="190" r="3.6" fill="#a9a9a9" stroke="#222" stroke-width="1"/>
<circle cx="320.1" cy="221.5" r="3.6" fill="#a9a9a9" stroke="#222" stroke-width="1"/>
<circle cx="336.3" cy="199.4" r="3.6" fill="#a9a9a9" stroke="#222" stroke-width="1"/>
<circle cx="349" cy="185.6" r="3.6" fill="#a9a9a9" stroke="#222" stroke-width="1"/>
<circle cx="358.8" cy="172.3" r="3.6" fill="#a9a9a9" stroke="#222" stroke-width="1"/>
<circle cx="368.1" cy="185.2" r="3.6" fill="#a9a9a9" stroke="#222" stroke-width="1"/>
<circle cx="374.4" cy="187.3" r="3.6" fill="#a9a9a9" stroke="#222" stroke-width="1"/>
<circle cx="381.1" cy="222.1" r="3.6" fill="#a9a9a9" stroke="#222" stroke-width="1"/>
<circle cx="397.4" cy="212.8" r="3.6" fill="#a9a9a9" stroke="#222" stroke-width="1"/>
<circle cx="407.1" cy="266.3" r="3.6" fill="#a9a9a9" stroke="#222" stroke-width="1"/>
<rect x="287.2" y="177.8" width="7" height="7" fill="#000"/>
<rect x="291.1" y="184.6" width="7" height="7" fill="#000"/>
<rect x="294.0" y="190.3" width="7" height="7" fill="#000"/>
<rect x="304.1" y="185.5" width="7" height="7" fill="#000"/>
<rect x="306.9" y="192.3" width="7" height="7" fill="#000"/>
<rect x="316.6" y="200.4" width="7" height="7" fill="#000"/>
<rect x="332.8" y="186.1" width="7" height="7" fill="#000"/>
<rect x="345.5" y="183.8" width="7" height="7" fill="#000"/>
<rect x="355.3" y="170.0" width="7" height="7" fill="#000"/>
<rect x="364.6" y="171.7" width="7" height="7" fill="#000"/>
<rect x="370.9" y="170.5" width="7" height="7" fill="#000"/>
<rect x="377.8" y="179.8" width="7" height="7" fill="#000"/>
<rect x="394.0" y="163.2" width="7" height="7" fill="#000"/>
<rect x="403.6" y="167.1" width="7" height="7" fill="#000"/>
<rect x="413.2" y="171.5" width="7" height="7" fill="#000"/>
<rect x="422.8" y="156.5" width="7" height="7" fill="#000"/>
<rect x="432.5" y="152.7" width="7" height="7" fill="#000"/>
<rect x="438.8" y="163.2" width="7" height="7" fill="#000"/>
<rect x="442.1" y="162.3" width="7" height="7" fill="#000"/>
<rect x="451.7" y="152.7" width="7" height="7" fill="#000"/>
<rect x="477.7" y="143.0" width="7" height="7" fill="#000"/>
<line x1="381.4" y1="271.6" x2="414.5" y2="271.6" stroke="#2a2a2a" stroke-width="1.3" />
<path d="M397.40,277.20 L397.40,274.10 M397.40,277.20 L400.35,276.24 M397.40,277.20 L399.22,279.71 M397.40,277.20 L395.58,279.71 M397.40,277.20 L394.45,276.24 " stroke="#111" stroke-width="1.4" stroke-linecap="butt" fill="none"/>
<rect x="428.5" y="234.4" width="6" height="6" fill="#000"/>
<text x="438.2" y="240.4" font-size="10.2" text-anchor="start" fill="#1e1e1e" stroke="#1e1e1e" stroke-width="0.35"  style="">Wild Type</text>
<circle cx="431.5" cy="249.6" r="3" fill="#a9a9a9" stroke="#222" stroke-width="1"/>
<text x="437.7" y="254.2" font-size="10.2" text-anchor="start" fill="#1e1e1e" stroke="#1e1e1e" stroke-width="0.35"  style="">Casp1<tspan font-size="9.5" dy="-5.5">-/-</tspan></text>
<circle cx="431.5" cy="263.8" r="3" fill="#fff" stroke="#222" stroke-width="1"/>
<text x="438.2" y="266.9" font-size="10.2" text-anchor="start" fill="#1e1e1e" stroke="#1e1e1e" stroke-width="0.35"  style="">AOM/Mock</text>
<text x="-0.8" y="332.3" font-size="11.5" text-anchor="start" fill="#333" stroke="#333" stroke-width="0.35" font-weight="bold" style="">D</text>
<line x1="37.9" y1="328.6" x2="37.9" y2="478.3" stroke="#2a2a2a" stroke-width="1.3" />
<line x1="37.3" y1="478.3" x2="231" y2="478.3" stroke="#2a2a2a" stroke-width="1.3" />
<line x1="35.4" y1="328.6" x2="37.9" y2="328.6" stroke="#2a2a2a" stroke-width="1.1" />
<text x="33" y="332.90000000000003" font-size="12" text-anchor="end" fill="#1e1e1e" stroke="#1e1e1e" stroke-width="0.35"  style="">20</text>
<line x1="35.4" y1="347.20000000000005" x2="37.9" y2="347.20000000000005" stroke="#2a2a2a" stroke-width="1.1" />
<text x="33" y="351.50000000000006" font-size="12" text-anchor="end" fill="#1e1e1e" stroke="#1e1e1e" stroke-width="0.35"  style="">15</text>
<line x1="35.4" y1="365.8" x2="37.9" y2="365.8" stroke="#2a2a2a" stroke-width="1.1" />
<text x="33" y="370.1" font-size="12" text-anchor="end" fill="#1e1e1e" stroke="#1e1e1e" stroke-width="0.35"  style="">10</text>
<line x1="35.4" y1="384.4" x2="37.9" y2="384.4" stroke="#2a2a2a" stroke-width="1.1" />
<text x="33" y="388.7" font-size="12" text-anchor="end" fill="#1e1e1e" stroke="#1e1e1e" stroke-width="0.35"  style="">5</text>
<line x1="35.4" y1="403.0" x2="37.9" y2="403.0" stroke="#2a2a2a" stroke-width="1.1" />
<text x="33" y="407.3" font-size="12" text-anchor="end" fill="#1e1e1e" stroke="#1e1e1e" stroke-width="0.35"  style="">0</text>
<line x1="35.4" y1="421.6" x2="37.9" y2="421.6" stroke="#2a2a2a" stroke-width="1.1" />
<text x="33" y="425.90000000000003" font-size="12" text-anchor="end" fill="#1e1e1e" stroke="#1e1e1e" stroke-width="0.35"  style="">-5</text>
<line x1="35.4" y1="440.2" x2="37.9" y2="440.2" stroke="#2a2a2a" stroke-width="1.1" />
<text x="33" y="444.5" font-size="12" text-anchor="end" fill="#1e1e1e" stroke="#1e1e1e" stroke-width="0.35"  style="">-10</text>
<line x1="35.4" y1="458.79999999999995" x2="37.9" y2="458.79999999999995" stroke="#2a2a2a" stroke-width="1.1" />
<text x="33" y="463.09999999999997" font-size="12" text-anchor="end" fill="#1e1e1e" stroke="#1e1e1e" stroke-width="0.35"  style="">-15</text>
<line x1="35.4" y1="477.4" x2="37.9" y2="477.4" stroke="#2a2a2a" stroke-width="1.1" />
<text x="33" y="481.7" font-size="12" text-anchor="end" fill="#1e1e1e" stroke="#1e1e1e" stroke-width="0.35"  style="">-20</text>
<line x1="37.9" y1="478.3" x2="37.9" y2="480.8" stroke="#2a2a2a" stroke-width="1.1" />
<text x="37.9" y="493.5" font-size="12" text-anchor="middle" fill="#1e1e1e" stroke="#1e1e1e" stroke-width="0.35"  style="">0</text>
<line x1="70.1" y1="478.3" x2="70.1" y2="480.8" stroke="#2a2a2a" stroke-width="1.1" />
<text x="70.1" y="493.5" font-size="12" text-anchor="middle" fill="#1e1e1e" stroke="#1e1e1e" stroke-width="0.35"  style="">10</text>
<line x1="102.30000000000001" y1="478.3" x2="102.30000000000001" y2="480.8" stroke="#2a2a2a" stroke-width="1.1" />
<text x="102.30000000000001" y="493.5" font-size="12" text-anchor="middle" fill="#1e1e1e" stroke="#1e1e1e" stroke-width="0.35"  style="">20</text>
<line x1="134.5" y1="478.3" x2="134.5" y2="480.8" stroke="#2a2a2a" stroke-width="1.1" />
<text x="134.5" y="493.5" font-size="12" text-anchor="middle" fill="#1e1e1e" stroke="#1e1e1e" stroke-width="0.35"  style="">30</text>
<line x1="166.70000000000002" y1="478.3" x2="166.70000000000002" y2="480.8" stroke="#2a2a2a" stroke-width="1.1" />
<text x="166.70000000000002" y="493.5" font-size="12" text-anchor="middle" fill="#1e1e1e" stroke="#1e1e1e" stroke-width="0.35"  style="">40</text>
<line x1="198.9" y1="478.3" x2="198.9" y2="480.8" stroke="#2a2a2a" stroke-width="1.1" />
<text x="198.9" y="493.5" font-size="12" text-anchor="middle" fill="#1e1e1e" stroke="#1e1e1e" stroke-width="0.35"  style="">50</text>
<line x1="231.10000000000002" y1="478.3" x2="231.10000000000002" y2="480.8" stroke="#2a2a2a" stroke-width="1.1" />
<text x="231.10000000000002" y="493.5" font-size="12" text-anchor="middle" fill="#1e1e1e" stroke="#1e1e1e" stroke-width="0.35"  style="">60</text>
<text x="134" y="509" font-size="12.5" text-anchor="middle" fill="#1e1e1e" stroke="#1e1e1e" stroke-width="0.35"  style="">Day</text>
<text transform="translate(9.8,408.4) rotate(-90)" font-size="12.7" text-anchor="middle" fill="#1e1e1e" stroke="#1e1e1e" stroke-width="0.35">Percent Weight Change</text>
<line x1="40" y1="336.1" x2="64" y2="336.1" stroke="#2a2a2a" stroke-width="1.5" />
<text x="52.5" y="332.5" font-size="12.5" text-anchor="middle" fill="#1e1e1e" stroke="#1e1e1e" stroke-width="0.35"  style="">DSS</text>
<line x1="97.5" y1="336.1" x2="121" y2="336.1" stroke="#2a2a2a" stroke-width="1.5" />
<text x="110.4" y="332.5" font-size="12.5" text-anchor="middle" fill="#1e1e1e" stroke="#1e1e1e" stroke-width="0.35"  style="">DSS</text>
<line x1="166.9" y1="336.1" x2="191.9" y2="336.1" stroke="#2a2a2a" stroke-width="1.5" />
<text x="181.3" y="332.5" font-size="12.5" text-anchor="middle" fill="#1e1e1e" stroke="#1e1e1e" stroke-width="0.35"  style="">DSS</text>
<path d="M41.4,404 L44.5,420.5 L47.6,436.2 L57.3,421.5 L60.4,432.3 L70.1,451.8 L86.3,443.5 L99,447.1 L108.6,432.7 L118.1,441.9 L121.5,440.2 L125,445.4 L131.3,462.7" fill="none" stroke="#2a2a2a" stroke-width="1.2" />
<path d="M41.4,402.7 L44.5,416.2 L47.5,425.8 L57.4,416.9 L60.5,428.1 L70.1,445.4 L85.8,417.7 L98.4,413.8 L108.5,387.9 L117.8,390.8 L124.5,388.8 L131,406.2 L146.8,375.6 L156.3,381.5 L166,390.2 L175.6,361.9 L185.2,355.6 L191.9,374.8 L195.8,371.9 L204.4,354.6 L230.4,336.9" fill="none" stroke="#2a2a2a" stroke-width="1.2" />
<path d="M41.4,403 L44.5,406 L47.5,409.2 L57.2,410 L60.5,405.8 L69.8,402.7 L85.8,396.9 L98.1,396.9 L108.5,380.2 L121.2,380.7 L124.5,383.1 L130.8,377.8 L146.9,369.1 L156.3,363.3 L166,365.2 L175.6,366.2 L185.2,365.8 L191,362.7 L194.8,363.8 L204.4,345.4 L230.4,329.2" fill="none" stroke="#2a2a2a" stroke-width="1.2" />
<circle cx="41.4" cy="403" r="3.6" fill="#fff" stroke="#111" stroke-width="1.1"/>
<circle cx="44.5" cy="406" r="3.6" fill="#fff" stroke="#111" stroke-width="1.1"/>
<circle cx="47.5" cy="409.2" r="3.6" fill="#fff" stroke="#111" stroke-width="1.1"/>
<circle cx="57.2" cy="410" r="3.6" fill="#fff" stroke="#111" stroke-width="1.1"/>
<circle cx="60.5" cy="405.8" r="3.6" fill="#fff" stroke="#111" stroke-width="1.1"/>
<circle cx="69.8" cy="402.7" r="3.6" fill="#fff" stroke="#111" stroke-width="1.1"/>
<circle cx="85.8" cy="396.9" r="3.6" fill="#fff" stroke="#111" stroke-width="1.1"/>
<circle cx="98.1" cy="396.9" r="3.6" fill="#fff" stroke="#111" stroke-width="1.1"/>
<circle cx="108.5" cy="380.2" r="3.6" fill="#fff" stroke="#111" stroke-width="1.1"/>
<circle cx="121.2" cy="380.7" r="3.6" fill="#fff" stroke="#111" stroke-width="1.1"/>
<circle cx="124.5" cy="383.1" r="3.6" fill="#fff" stroke="#111" stroke-width="1.1"/>
<circle cx="130.8" cy="377.8" r="3.6" fill="#fff" stroke="#111" stroke-width="1.1"/>
<circle cx="146.9" cy="369.1" r="3.6" fill="#fff" stroke="#111" stroke-width="1.1"/>
<circle cx="156.3" cy="363.3" r="3.6" fill="#fff" stroke="#111" stroke-width="1.1"/>
<circle cx="166" cy="365.2" r="3.6" fill="#fff" stroke="#111" stroke-width="1.1"/>
<circle cx="175.6" cy="366.2" r="3.6" fill="#fff" stroke="#111" stroke-width="1.1"/>
<circle cx="185.2" cy="365.8" r="3.6" fill="#fff" stroke="#111" stroke-width="1.1"/>
<circle cx="191" cy="362.7" r="3.6" fill="#fff" stroke="#111" stroke-width="1.1"/>
<circle cx="194.8" cy="363.8" r="3.6" fill="#fff" stroke="#111" stroke-width="1.1"/>
<circle cx="204.4" cy="345.4" r="3.6" fill="#fff" stroke="#111" stroke-width="1.1"/>
<circle cx="230.4" cy="329.2" r="3.6" fill="#fff" stroke="#111" stroke-width="1.1"/>
<path d="M37.6,401.19 L45.199999999999996,401.19 L41.4,408.41 Z" fill="#9a9a9a" stroke="#222" stroke-width="1" stroke-linejoin="miter"/>
<path d="M40.7,417.69 L48.3,417.69 L44.5,424.91 Z" fill="#9a9a9a" stroke="#222" stroke-width="1" stroke-linejoin="miter"/>
<path d="M43.800000000000004,433.39 L51.4,433.39 L47.6,440.61 Z" fill="#9a9a9a" stroke="#222" stroke-width="1" stroke-linejoin="miter"/>
<path d="M53.5,418.69 L61.099999999999994,418.69 L57.3,425.91 Z" fill="#9a9a9a" stroke="#222" stroke-width="1" stroke-linejoin="miter"/>
<path d="M56.6,429.49 L64.2,429.49 L60.4,436.71000000000004 Z" fill="#9a9a9a" stroke="#222" stroke-width="1" stroke-linejoin="miter"/>
<path d="M66.3,448.99 L73.89999999999999,448.99 L70.1,456.21000000000004 Z" fill="#9a9a9a" stroke="#222" stroke-width="1" stroke-linejoin="miter"/>
<path d="M82.5,440.69 L90.1,440.69 L86.3,447.91 Z" fill="#9a9a9a" stroke="#222" stroke-width="1" stroke-linejoin="miter"/>
<path d="M95.2,444.29 L102.8,444.29 L99,451.51000000000005 Z" fill="#9a9a9a" stroke="#222" stroke-width="1" stroke-linejoin="miter"/>
<path d="M104.8,429.89 L112.39999999999999,429.89 L108.6,437.11 Z" fill="#9a9a9a" stroke="#222" stroke-width="1" stroke-linejoin="miter"/>
<path d="M114.3,439.09 L121.89999999999999,439.09 L118.1,446.31 Z" fill="#9a9a9a" stroke="#222" stroke-width="1" stroke-linejoin="miter"/>
<path d="M117.7,437.39 L125.3,437.39 L121.5,444.61 Z" fill="#9a9a9a" stroke="#222" stroke-width="1" stroke-linejoin="miter"/>
<path d="M121.2,442.59 L128.8,442.59 L125,449.81 Z" fill="#9a9a9a" stroke="#222" stroke-width="1" stroke-linejoin="miter"/>
<path d="M127.50000000000001,459.89 L135.10000000000002,459.89 L131.3,467.11 Z" fill="#9a9a9a" stroke="#222" stroke-width="1" stroke-linejoin="miter"/>
<rect x="37.9" y="399.2" width="7" height="7" fill="#000"/>
<rect x="41.0" y="412.7" width="7" height="7" fill="#000"/>
<rect x="44.0" y="422.3" width="7" height="7" fill="#000"/>
<rect x="53.9" y="413.4" width="7" height="7" fill="#000"/>
<rect x="57.0" y="424.6" width="7" height="7" fill="#000"/>
<rect x="66.6" y="441.9" width="7" height="7" fill="#000"/>
<rect x="82.3" y="414.2" width="7" height="7" fill="#000"/>
<rect x="94.9" y="410.3" width="7" height="7" fill="#000"/>
<rect x="105.0" y="384.4" width="7" height="7" fill="#000"/>
<rect x="114.3" y="387.3" width="7" height="7" fill="#000"/>
<rect x="121.0" y="385.3" width="7" height="7" fill="#000"/>
<rect x="127.5" y="402.7" width="7" height="7" fill="#000"/>
<rect x="143.3" y="372.1" width="7" height="7" fill="#000"/>
<rect x="152.8" y="378.0" width="7" height="7" fill="#000"/>
<rect x="162.5" y="386.7" width="7" height="7" fill="#000"/>
<rect x="172.1" y="358.4" width="7" height="7" fill="#000"/>
<rect x="181.7" y="352.1" width="7" height="7" fill="#000"/>
<rect x="188.4" y="371.3" width="7" height="7" fill="#000"/>
<rect x="192.3" y="368.4" width="7" height="7" fill="#000"/>
<rect x="200.9" y="351.1" width="7" height="7" fill="#000"/>
<rect x="226.9" y="333.4" width="7" height="7" fill="#000"/>
<line x1="80.8" y1="468.8" x2="134.2" y2="468.8" stroke="#2a2a2a" stroke-width="1.3" />
<path d="M109.60,473.60 L109.60,469.40 M109.60,473.60 L113.59,472.30 M109.60,473.60 L112.07,477.00 M109.60,473.60 L107.13,477.00 M109.60,473.60 L105.61,472.30 " stroke="#111" stroke-width="1.7" stroke-linecap="butt" fill="none"/>
<rect x="173.9" y="432.2" width="6" height="6" fill="#000"/>
<text x="183.1" y="438.5" font-size="10.2" text-anchor="start" fill="#1e1e1e" stroke="#1e1e1e" stroke-width="0.35"  style="">Wild Type</text>
<path d="M174.95,444.6875 L180.45,444.6875 L177.7,449.9125 Z" fill="#9a9a9a" stroke="#222" stroke-width="1" stroke-linejoin="miter"/>
<text x="183.8" y="451.9" font-size="10.2" text-anchor="start" fill="#1e1e1e" stroke="#1e1e1e" stroke-width="0.35"  style="">Pycard<tspan font-size="9.5" dy="-5.5">-/-</tspan></text>
<circle cx="177.7" cy="461.2" r="3" fill="#fff" stroke="#222" stroke-width="1"/>
<text x="183.8" y="466" font-size="10.2" text-anchor="start" fill="#1e1e1e" stroke="#1e1e1e" stroke-width="0.35"  style="">AOM/Mock</text>
<text x="251.8" y="332.6" font-size="11" text-anchor="start" fill="#1e1e1e" stroke="#1e1e1e" stroke-width="0.35"  style="">E</text>
<line x1="292" y1="328.8" x2="292" y2="441" stroke="#2a2a2a" stroke-width="1.3" />
<line x1="291.4" y1="441" x2="374" y2="441" stroke="#2a2a2a" stroke-width="1.3" />
<line x1="289.5" y1="441.0" x2="292" y2="441.0" stroke="#2a2a2a" stroke-width="1.1" />
<text x="287.3" y="445.3" font-size="12" text-anchor="end" fill="#1e1e1e" stroke="#1e1e1e" stroke-width="0.35"  style="">0.0</text>
<line x1="289.5" y1="418.56" x2="292" y2="418.56" stroke="#2a2a2a" stroke-width="1.1" />
<text x="287.3" y="422.86" font-size="12" text-anchor="end" fill="#1e1e1e" stroke="#1e1e1e" stroke-width="0.35"  style="">0.5</text>
<line x1="289.5" y1="396.12" x2="292" y2="396.12" stroke="#2a2a2a" stroke-width="1.1" />
<text x="287.3" y="400.42" font-size="12" text-anchor="end" fill="#1e1e1e" stroke="#1e1e1e" stroke-width="0.35"  style="">1.0</text>
<line x1="289.5" y1="373.68" x2="292" y2="373.68" stroke="#2a2a2a" stroke-width="1.1" />
<text x="287.3" y="377.98" font-size="12" text-anchor="end" fill="#1e1e1e" stroke="#1e1e1e" stroke-width="0.35"  style="">1.5</text>
<line x1="289.5" y1="351.24" x2="292" y2="351.24" stroke="#2a2a2a" stroke-width="1.1" />
<text x="287.3" y="355.54" font-size="12" text-anchor="end" fill="#1e1e1e" stroke="#1e1e1e" stroke-width="0.35"  style="">2.0</text>
<line x1="289.5" y1="328.8" x2="292" y2="328.8" stroke="#2a2a2a" stroke-width="1.1" />
<text x="287.3" y="333.1" font-size="12" text-anchor="end" fill="#1e1e1e" stroke="#1e1e1e" stroke-width="0.35"  style="">2.5</text>
<text transform="translate(262.5,382.7) rotate(-90)" font-size="12.5" text-anchor="middle" fill="#1e1e1e" stroke="#1e1e1e" stroke-width="0.35">Clinical Score</text>
<line x1="302.45" y1="431.7" x2="302.45" y2="430.3" stroke="#2a2a2a" stroke-width="1.3" />
<line x1="297.45" y1="430.3" x2="307.45" y2="430.3" stroke="#2a2a2a" stroke-width="1.5" />
<rect x="294.25" y="432.45" width="16.399999999999977" height="8.550000000000011" fill="#fff" stroke="#111" stroke-width="1.5"/>
<line x1="322.8" y1="410.9" x2="322.8" y2="408.8" stroke="#2a2a2a" stroke-width="1.3" />
<line x1="317.8" y1="408.8" x2="327.8" y2="408.8" stroke="#2a2a2a" stroke-width="1.5" />
<rect x="314.75" y="411.65" width="16.100000000000023" height="29.350000000000023" fill="#000" stroke="#111" stroke-width="1.5"/>
<line x1="343.54999999999995" y1="370.3" x2="343.54999999999995" y2="347.9" stroke="#2a2a2a" stroke-width="1.3" />
<line x1="338.54999999999995" y1="347.9" x2="348.54999999999995" y2="347.9" stroke="#2a2a2a" stroke-width="1.5" />
<rect x="335.45" y="371.05" width="16.19999999999999" height="69.94999999999999" fill="#a8a8a8" stroke="#111" stroke-width="1.5"/>
<line x1="363.70000000000005" y1="359.9" x2="363.70000000000005" y2="344" stroke="#2a2a2a" stroke-width="1.3" />
<line x1="358.70000000000005" y1="344" x2="368.70000000000005" y2="344" stroke="#2a2a2a" stroke-width="1.5" />
<rect x="355.35" y="360.65" width="16.69999999999999" height="80.35000000000002" fill="#a8a8a8" stroke="#111" stroke-width="1.5"/>
<line x1="302.7" y1="441" x2="302.7" y2="443.5" stroke="#2a2a2a" stroke-width="1.1" />
<line x1="322.6" y1="441" x2="322.6" y2="443.5" stroke="#2a2a2a" stroke-width="1.1" />
<line x1="343" y1="441" x2="343" y2="443.5" stroke="#2a2a2a" stroke-width="1.1" />
<line x1="363.3" y1="441" x2="363.3" y2="443.5" stroke="#2a2a2a" stroke-width="1.1" />
<text x="323" y="405.3" font-size="12.5" text-anchor="middle" fill="#1e1e1e" stroke="#1e1e1e" stroke-width="0.35" font-weight="bold" style="">#</text>
<path d="M343.40,337.80 L343.40,334.50 M343.40,337.80 L346.54,336.78 M343.40,337.80 L345.34,340.47 M343.40,337.80 L341.46,340.47 M343.40,337.80 L340.26,336.78 " stroke="#111" stroke-width="1.5" stroke-linecap="butt" fill="none"/>
<path d="M364.60,336.10 L364.60,332.80 M364.60,336.10 L367.74,335.08 M364.60,336.10 L366.54,338.77 M364.60,336.10 L362.66,338.77 M364.60,336.10 L361.46,335.08 " stroke="#111" stroke-width="1.5" stroke-linecap="butt" fill="none"/>
<text transform="translate(304.8,456.8) rotate(-48)" font-size="12.5" text-anchor="end" fill="#1e1e1e" stroke="#1e1e1e" stroke-width="0.35">AOM</text>
<text transform="translate(327.8,453.2) rotate(-50)" font-size="12.5" text-anchor="end" fill="#1e1e1e" stroke="#1e1e1e" stroke-width="0.35">Wild Type</text>
<text transform="translate(350.5,454) rotate(-52)" font-size="12.5" text-anchor="end" fill="#1e1e1e" stroke="#1e1e1e" stroke-width="0.35">Casp1 <tspan font-size="10" dy="-1">-/-</tspan></text>
<text transform="translate(372.3,454.3) rotate(-52)" font-size="12.5" text-anchor="end" fill="#1e1e1e" stroke="#1e1e1e" stroke-width="0.35">Pycard <tspan font-size="10" dy="-1">-/-</tspan></text>
<line x1="304.2" y1="498.8" x2="371.5" y2="498.8" stroke="#2a2a2a" stroke-width="1.2" />
<text x="335.7" y="510.4" font-size="12.5" text-anchor="middle" fill="#1e1e1e" stroke="#1e1e1e" stroke-width="0.35"  style="">AOM/DSS</text>
<text x="407.5" y="529.5" font-size="11" text-anchor="start" fill="#1e1e1e" stroke="#1e1e1e" stroke-width="0.35"  style="">G</text>
<line x1="439.2" y1="524" x2="439.2" y2="639.2" stroke="#2a2a2a" stroke-width="1.3" />
<line x1="438.59999999999997" y1="639.2" x2="516" y2="639.2" stroke="#2a2a2a" stroke-width="1.3" />
<line x1="436.7" y1="639.2" x2="439.2" y2="639.2" stroke="#2a2a2a" stroke-width="1.1" />
<text x="433.3" y="643.2" font-size="11" text-anchor="end" fill="#1e1e1e" stroke="#1e1e1e" stroke-width="0.35"  style="">0</text>
<line x1="436.7" y1="600.8000000000001" x2="439.2" y2="600.8000000000001" stroke="#2a2a2a" stroke-width="1.1" />
<text x="433.3" y="604.8000000000001" font-size="11" text-anchor="end" fill="#1e1e1e" stroke="#1e1e1e" stroke-width="0.35"  style="">10</text>
<line x1="436.7" y1="562.4" x2="439.2" y2="562.4" stroke="#2a2a2a" stroke-width="1.1" />
<text x="433.3" y="566.4" font-size="11" text-anchor="end" fill="#1e1e1e" stroke="#1e1e1e" stroke-width="0.35"  style="">20</text>
<line x1="436.7" y1="524.0" x2="439.2" y2="524.0" stroke="#2a2a2a" stroke-width="1.1" />
<text x="433.3" y="528.0" font-size="11" text-anchor="end" fill="#1e1e1e" stroke="#1e1e1e" stroke-width="0.35"  style="">30</text>
<text transform="translate(416.3,589.7) rotate(-90)" font-size="11.2" text-anchor="middle" fill="#1e1e1e" stroke="#1e1e1e" stroke-width="0.35">HAI Score</text>
<line x1="448.6" y1="625.8" x2="448.6" y2="616.1" stroke="#2a2a2a" stroke-width="1.3" />
<line x1="444.1" y1="616.1" x2="453.1" y2="616.1" stroke="#2a2a2a" stroke-width="1.5" />
<rect x="440.35" y="626.55" width="16.5" height="12.650000000000091" fill="#fff" stroke="#111" stroke-width="1.5"/>
<line x1="467.85" y1="585.5" x2="467.85" y2="579" stroke="#2a2a2a" stroke-width="1.3" />
<line x1="463.35" y1="579" x2="472.35" y2="579" stroke="#2a2a2a" stroke-width="1.5" />
<rect x="460.25" y="586.25" width="15.199999999999989" height="52.950000000000045" fill="#000" stroke="#111" stroke-width="1.5"/>
<line x1="486.85" y1="546.5" x2="486.85" y2="542.8" stroke="#2a2a2a" stroke-width="1.3" />
<line x1="482.35" y1="542.8" x2="491.35" y2="542.8" stroke="#2a2a2a" stroke-width="1.5" />
<rect x="478.75" y="547.25" width="16.19999999999999" height="91.95000000000005" fill="#a8a8a8" stroke="#111" stroke-width="1.5"/>
<line x1="505.85" y1="533.6" x2="505.85" y2="531.3" stroke="#2a2a2a" stroke-width="1.3" />
<line x1="501.35" y1="531.3" x2="510.35" y2="531.3" stroke="#2a2a2a" stroke-width="1.5" />
<rect x="497.85" y="534.35" width="16.0" height="104.85000000000002" fill="#a8a8a8" stroke="#111" stroke-width="1.5"/>
<line x1="448.5" y1="639.2" x2="448.5" y2="641.7" stroke="#2a2a2a" stroke-width="1.1" />
<line x1="467.1" y1="639.2" x2="467.1" y2="641.7" stroke="#2a2a2a" stroke-width="1.1" />
<line x1="487.3" y1="639.2" x2="487.3" y2="641.7" stroke="#2a2a2a" stroke-width="1.1" />
<line x1="506.5" y1="639.2" x2="506.5" y2="641.7" stroke="#2a2a2a" stroke-width="1.1" />
<text x="467.5" y="575.6" font-size="11.5" text-anchor="middle" fill="#1e1e1e" stroke="#1e1e1e" stroke-width="0.35" font-weight="bold" style="">#</text>
<path d="M486.30,534.80 L486.30,531.60 M486.30,534.80 L489.34,533.81 M486.30,534.80 L488.18,537.39 M486.30,534.80 L484.42,537.39 M486.30,534.80 L483.26,533.81 " stroke="#111" stroke-width="1.5" stroke-linecap="butt" fill="none"/>
<path d="M505.90,526.40 L505.90,523.20 M505.90,526.40 L508.94,525.41 M505.90,526.40 L507.78,528.99 M505.90,526.40 L504.02,528.99 M505.90,526.40 L502.86,525.41 " stroke="#111" stroke-width="1.5" stroke-linecap="butt" fill="none"/>
<text transform="translate(451.8,649) rotate(-45)" font-size="11" text-anchor="end" fill="#1e1e1e" stroke="#1e1e1e" stroke-width="0.35">Mock</text>
<text transform="translate(472.7,649) rotate(-45)" font-size="11" text-anchor="end" fill="#1e1e1e" stroke="#1e1e1e" stroke-width="0.35">Wild Type</text>
<text transform="translate(492.8,649.3) rotate(-53)" font-size="10.5" text-anchor="end" fill="#1e1e1e" stroke="#1e1e1e" stroke-width="0.35">Casp1 <tspan font-size="9" dy="-1">-/-</tspan></text>
<text transform="translate(510.6,650.5) rotate(-53)" font-size="10.5" text-anchor="end" fill="#1e1e1e" stroke="#1e1e1e" stroke-width="0.35">Pycard <tspan font-size="9" dy="-1">-/-</tspan></text>
<line x1="465" y1="690" x2="514.8" y2="690" stroke="#2a2a2a" stroke-width="1.2" />
<text x="491" y="701" font-size="10.5" text-anchor="middle" fill="#1e1e1e" stroke="#1e1e1e" stroke-width="0.35"  style="">AOM/DSS</text>
<text x="-1.3" y="528.7" font-size="12.5" text-anchor="start" fill="#1e1e1e" stroke="#1e1e1e" stroke-width="0.35" font-weight="bold" style="">F</text>
<path d="M241.00,545.20 L241.00,542.50 M241.00,545.20 L243.57,544.37 M241.00,545.20 L242.59,547.38 M241.00,545.20 L239.41,547.38 M241.00,545.20 L238.43,544.37 " stroke="#111" stroke-width="1.4" stroke-linecap="butt" fill="none"/>
<path d="M225.20,614.70 L225.20,612.00 M225.20,614.70 L227.77,613.87 M225.20,614.70 L226.79,616.88 M225.20,614.70 L223.61,616.88 M225.20,614.70 L222.63,613.87 " stroke="#111" stroke-width="1.4" stroke-linecap="butt" fill="none"/>
<path d="M358.50,553.40 L358.50,550.70 M358.50,553.40 L361.07,552.57 M358.50,553.40 L360.09,555.58 M358.50,553.40 L356.91,555.58 M358.50,553.40 L355.93,552.57 " stroke="#111" stroke-width="1.4" stroke-linecap="butt" fill="none"/>
<path d="M337.00,610.40 L337.00,607.70 M337.00,610.40 L339.57,609.57 M337.00,610.40 L338.59,612.58 M337.00,610.40 L335.41,612.58 M337.00,610.40 L334.43,609.57 " stroke="#111" stroke-width="1.4" stroke-linecap="butt" fill="none"/>
<text x="46.2" y="647.7" font-size="12" text-anchor="middle" fill="#1e1e1e" stroke="#1e1e1e" stroke-width="0.35"  style="">Mock</text>
<text x="152.4" y="647.9" font-size="12" text-anchor="middle" fill="#1e1e1e" stroke="#1e1e1e" stroke-width="0.35"  style="">Wild Type</text>
<text x="151.35" y="659.3" font-size="10.5" text-anchor="middle" fill="#1e1e1e" stroke="#1e1e1e" stroke-width="0.35"  style="">AOM/DSS</text>
<text x="249.3" y="646.6" font-size="12" text-anchor="middle" fill="#1e1e1e" stroke="#1e1e1e" stroke-width="0.35"  style="font-style:italic">Casp1</text>
<text x="275.7" y="639.5" font-size="9" text-anchor="middle" fill="#1e1e1e" stroke="#1e1e1e" stroke-width="0.35"  style="">-/-</text>
<text x="250.2" y="659.6" font-size="10.5" text-anchor="middle" fill="#1e1e1e" stroke="#1e1e1e" stroke-width="0.35"  style="">AOM/DSS</text>
<text x="346.7" y="647.5" font-size="12" text-anchor="middle" fill="#1e1e1e" stroke="#1e1e1e" stroke-width="0.35"  style="font-style:italic">Pycard</text>
<text x="374.5" y="640.2" font-size="9" text-anchor="middle" fill="#1e1e1e" stroke="#1e1e1e" stroke-width="0.35"  style="">-/-</text>
<text x="349.5" y="660.5" font-size="10.5" text-anchor="middle" fill="#1e1e1e" stroke="#1e1e1e" stroke-width="0.35"  style="">AOM/DSS</text>
</svg></body></html>
